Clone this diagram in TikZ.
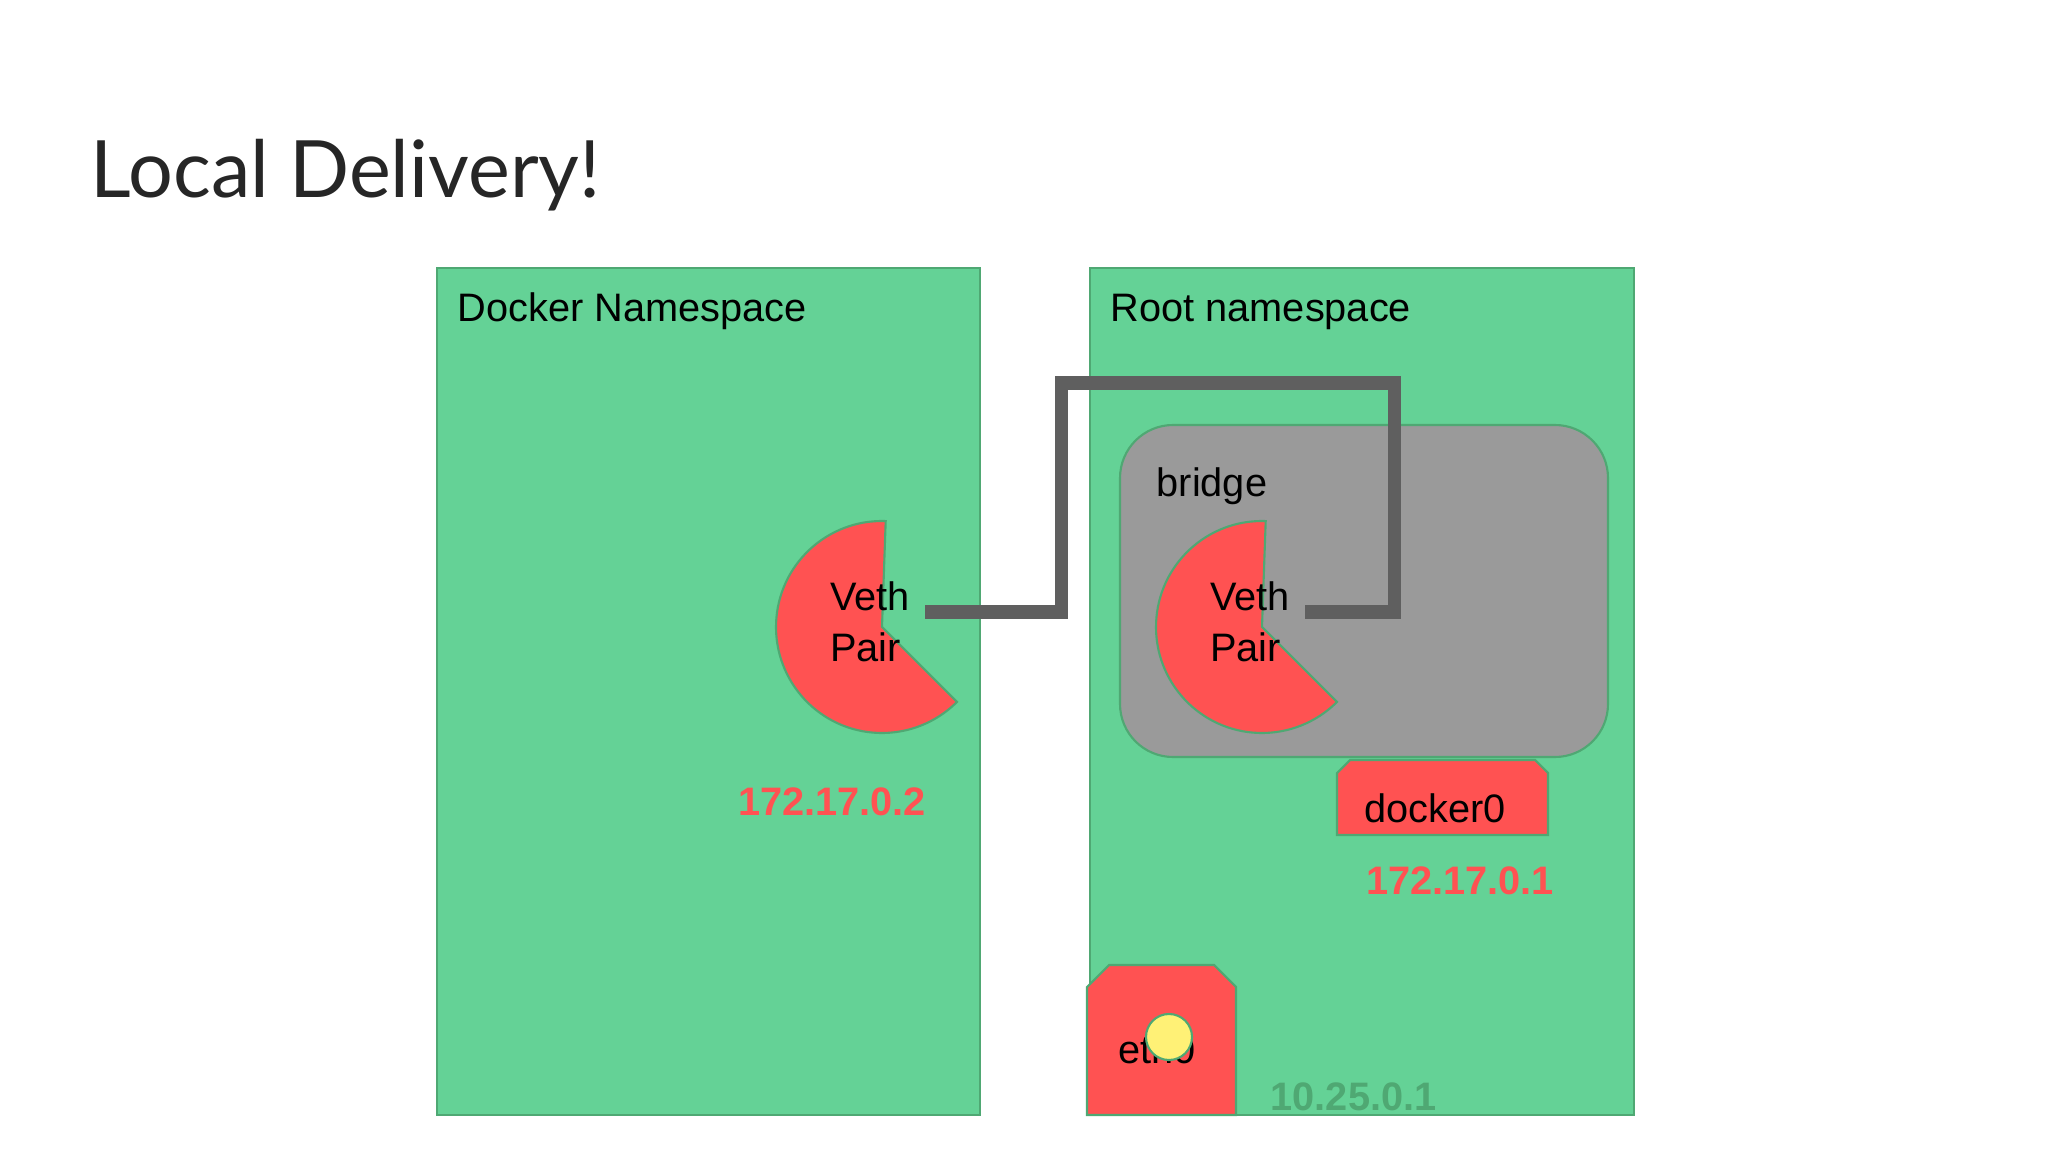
\documentclass[tikz,border=0pt]{standalone}
\usepackage{fontspec}
\setmainfont{Liberation Sans}
\newfontfamily\titlefont{Lato}
\usetikzlibrary{positioning}
\definecolor{nsgreen}{HTML}{64D296}
\definecolor{nsline}{HTML}{4FA873}
\definecolor{ifred}{HTML}{FF5252}
\definecolor{brgray}{HTML}{9A9A9A}
\definecolor{wiregray}{HTML}{5F5F5F}
\definecolor{portyellow}{HTML}{FFF176}
\begin{document}
\begin{tikzpicture}[x=0.01cm,y=-0.01cm,
ns/.style={draw=nsline,fill=nsgreen,line width=0.8pt},
lbl/.style={font=\fontsize{11.3}{13}\selectfont,anchor=base west,inner sep=0pt},
ip/.style={font=\fontsize{11.3}{13}\selectfont\bfseries,text=ifred},
veth/.style={draw=nsline,fill=ifred,line width=0.6pt}]
\useasboundingbox (0,0) rectangle (2048,1152);
\node[anchor=base west,inner sep=0pt,font=\titlefont\fontsize{22.5}{26}\selectfont,text=black!85] (title) at (90,198) {Local Delivery!};
% namespaces
\draw[ns] (437,268) rectangle (980,1115);
\node[lbl] (dockerns) at (457,322) {Docker Namespace};
\draw[ns] (1090,268) rectangle (1634,1115);
\node[lbl] (rootns) at (1110,322) {Root namespace};
% bridge
\draw[draw=nsline,fill=brgray,rounded corners=0.53cm,line width=0.6pt] (1120,425) rectangle (1608,757);
\node[lbl] (bridge) at (1156,497) {bridge};
% veth ends
\foreach \n/\cx in {left/882,right/1262}{
  \draw[veth] (\cx,627) -- ++(-88:106) arc[start angle=-88,end angle=-315,radius=106] -- cycle;
  \node[align=left,font=\fontsize{11.3}{14.5}\selectfont] (veth\n) at (\cx-12,622) {Veth\\Pair};
}
\coordinate (wireA) at (925,612);
\coordinate (wireB) at (1305,612);
\draw[wiregray,line width=0.13cm] (wireA) -- (1061,612) -- (1061,383) -- (1394,383) -- (1394,612) -- (wireB);
\node[ip] (ipdocker) at (832,802) {172.17.0.2};
% docker0
\draw[draw=nsline,fill=ifred,line width=0.6pt] (1337,835) -- (1337,773) -- (1350,760) -- (1535,760) -- (1548,773) -- (1548,835) -- cycle;
\node[font=\fontsize{11.3}{13}\selectfont] (docker0) at (1435,808) {docker0};
\node[ip] (iproot) at (1460,881) {172.17.0.1};
% eth0
\draw[draw=nsline,fill=ifred,line width=0.6pt] (1087,1115) -- (1087,987) -- (1109,965) -- (1214,965) -- (1236,987) -- (1236,1115) -- cycle;
\node[lbl] (eth0) at (1118,1063) {eth0};
\node[circle,draw=nsline,fill=portyellow,minimum size=0.46cm,inner sep=0pt,line width=0.6pt] (port) at (1169,1037) {};
\node[font=\fontsize{11.3}{13}\selectfont\bfseries,text=nsline,anchor=base west,inner sep=0pt] (iphost) at (1270,1110) {10.25.0.1};
\end{tikzpicture}
\end{document}
